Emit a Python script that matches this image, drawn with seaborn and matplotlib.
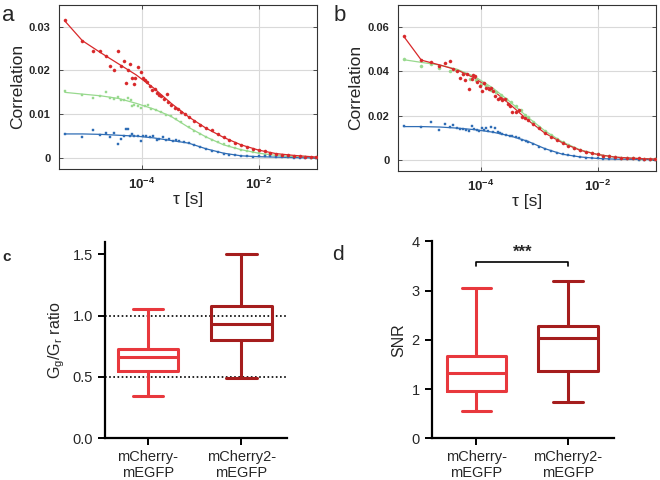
import numpy as np
import pandas as pd
import seaborn as sns
import matplotlib.pyplot as plt
from matplotlib.ticker import FuncFormatter, NullLocator

# ---- panel a: correlation curves (log10 of tau in s) ----
a_red_logtau = [-5.32, -5.02, -4.84, -4.71, -4.61, -4.54, -4.47, -4.41, -4.35, -4.31, -4.27, -4.23,
                -4.20, -4.17, -4.14, -4.11, -4.06, -4.01, -3.98, -3.94, -3.91, -3.87, -3.83, -3.78,
                -3.75, -3.71, -3.67, -3.62, -3.57, -3.56, -3.50, -3.44, -3.38, -3.33, -3.27,
                -3.20, -3.10, -3.00, -2.90, -2.80, -2.70, -2.60, -2.50, -2.40, -2.30, -2.20, -2.10,
                -2.00, -1.90, -1.80, -1.70, -1.60, -1.50, -1.40, -1.30, -1.20, -1.10, -1.02]
a_red = [0.0315, 0.0268, 0.0245, 0.0245, 0.0232, 0.0211, 0.0201, 0.0245, 0.0211, 0.0221, 0.0171, 0.0202,
         0.0214, 0.0183, 0.0169, 0.0183, 0.0208, 0.0196, 0.0182, 0.0178, 0.0174, 0.0165, 0.0156, 0.0158,
         0.0148, 0.0144, 0.0141, 0.0135, 0.0146, 0.0127, 0.0121, 0.0115, 0.0111, 0.0104, 0.0100,
         0.0093, 0.0084, 0.0075, 0.0068, 0.0063, 0.0055, 0.0047, 0.0041, 0.0035, 0.0030, 0.0026, 0.0021,
         0.0018, 0.0015, 0.0012, 0.0010, 0.0008, 0.0007, 0.0005, 0.0004, 0.0003, 0.0003, 0.0002]

a_green_logtau = [-5.32, -5.02, -4.84, -4.71, -4.61, -4.54, -4.47, -4.41, -4.35, -4.30, -4.23, -4.18,
                  -4.17, -4.13, -4.07, -4.01, -3.95, -3.90, -3.84, -3.76, -3.67, -3.58, -3.50, -3.41,
                  -3.33, -3.20, -3.10, -3.00, -2.90, -2.80, -2.70, -2.60, -2.50, -2.40, -2.30, -2.20,
                  -2.10, -2.00, -1.90, -1.80, -1.70, -1.60, -1.50, -1.40, -1.30, -1.20, -1.10, -1.02]
a_green = [0.0152, 0.0144, 0.0138, 0.0141, 0.0151, 0.0137, 0.0135, 0.0140, 0.0133, 0.0133, 0.0137, 0.0133,
           0.0118, 0.0122, 0.0118, 0.0115, 0.0118, 0.0120, 0.0111, 0.0110, 0.0104, 0.0098, 0.0095, 0.0090,
           0.0082, 0.0070, 0.0061, 0.0054, 0.0048, 0.0042, 0.0037, 0.0031, 0.0027, 0.0023, 0.0019, 0.0016,
           0.0013, 0.0011, 0.0008, 0.0007, 0.0005, 0.0004, 0.0003, 0.0003, 0.0002, 0.0002, 0.0001, 0.0001]

a_blue_logtau = [-5.32, -5.02, -4.84, -4.71, -4.61, -4.54, -4.47, -4.41, -4.35, -4.31, -4.27, -4.23,
                 -4.20, -4.17, -4.13, -4.07, -4.02, -3.98, -3.93, -3.87, -3.81, -3.75, -3.70, -3.64,
                 -3.58, -3.53, -3.47, -3.41, -3.36, -3.28, -3.20, -3.10, -3.00, -2.90, -2.80, -2.70,
                 -2.60, -2.50, -2.40, -2.30, -2.20, -2.10, -2.00, -1.90, -1.80, -1.70, -1.60, -1.50,
                 -1.40, -1.30, -1.20, -1.10, -1.02]
a_blue = [0.0054, 0.0048, 0.0065, 0.0052, 0.0058, 0.0048, 0.0058, 0.0032, 0.0044, 0.0051, 0.0067, 0.0067,
          0.0050, 0.0055, 0.0050, 0.0051, 0.0040, 0.0051, 0.0050, 0.0049, 0.0050, 0.0042, 0.0044, 0.0047,
          0.0042, 0.0043, 0.0038, 0.0042, 0.0038, 0.0036, 0.0035, 0.0029, 0.0025, 0.0020, 0.0017, 0.0013,
          0.0010, 0.0008, 0.0006, 0.0005, 0.0004, 0.0003, 0.0004, 0.0005, 0.0004, 0.0003, 0.0002, 0.0002,
          0.0001, 0.0001, 0.0001, 0.0000, 0.0000]

# ---- panel b ----
b_red_logtau = [-5.32, -5.02, -4.85, -4.71, -4.62, -4.53, -4.47, -4.41, -4.36, -4.31, -4.28, -4.24,
                -4.20, -4.16, -4.14, -4.10, -4.06, -4.02, -3.98, -3.94, -3.91, -3.86, -3.82, -3.80,
                -3.75, -3.71, -3.67, -3.63, -3.58, -3.54, -3.50, -3.46, -3.40, -3.34, -3.29, -3.24,
                -3.20, -3.10, -3.00, -2.90, -2.80, -2.70, -2.60, -2.50, -2.40, -2.30, -2.20, -2.10,
                -2.00, -1.90, -1.80, -1.70, -1.60, -1.50, -1.40, -1.30, -1.20, -1.10, -1.02]
b_red = [0.0557, 0.0450, 0.0441, 0.0423, 0.0438, 0.0446, 0.0408, 0.0400, 0.0370, 0.0389, 0.0362, 0.0389,
         0.0321, 0.0365, 0.0385, 0.0377, 0.0350, 0.0335, 0.0309, 0.0347, 0.0324, 0.0320, 0.0324, 0.0309,
         0.0289, 0.0274, 0.0279, 0.0271, 0.0274, 0.0253, 0.0243, 0.0217, 0.0217, 0.0225, 0.0195, 0.0187,
         0.0180, 0.0163, 0.0142, 0.0120, 0.0104, 0.0090, 0.0076, 0.0063, 0.0052, 0.0043, 0.0036, 0.0030,
         0.0024, 0.0018, 0.0015, 0.0012, 0.0010, 0.0008, 0.0007, 0.0006, 0.0005, 0.0004, 0.0003]

b_green_logtau = [-5.32, -5.02, -4.85, -4.71, -4.53, -4.42, -4.31, -4.19, -4.08, -3.99, -3.91, -3.82,
                  -3.74, -3.65, -3.57, -3.48, -3.40, -3.31, -3.24, -3.20, -3.10, -3.00, -2.90, -2.80,
                  -2.70, -2.60, -2.50, -2.40, -2.30, -2.20, -2.10, -2.00, -1.90, -1.80, -1.70, -1.60,
                  -1.50, -1.40, -1.30, -1.20, -1.10, -1.02]
b_green = [0.0457, 0.0423, 0.0431, 0.0416, 0.0400, 0.0404, 0.0389, 0.0365, 0.0362, 0.0344, 0.0335, 0.0316,
           0.0304, 0.0294, 0.0274, 0.0263, 0.0243, 0.0225, 0.0202, 0.0195, 0.0172, 0.0150, 0.0130, 0.0114,
           0.0096, 0.0080, 0.0066, 0.0054, 0.0045, 0.0037, 0.0030, 0.0024, 0.0019, 0.0015, 0.0012, 0.0010,
           0.0008, 0.0007, 0.0005, 0.0004, 0.0004, 0.0003]

b_blue_logtau = [-5.32, -5.02, -4.85, -4.71, -4.62, -4.53, -4.47, -4.41, -4.35, -4.31, -4.25, -4.20,
                 -4.16, -4.12, -4.07, -4.03, -3.98, -3.94, -3.91, -3.87, -3.83, -3.79, -3.75, -3.71,
                 -3.67, -3.63, -3.57, -3.51, -3.46, -3.40, -3.34, -3.29, -3.23, -3.20, -3.10, -3.00,
                 -2.90, -2.80, -2.70, -2.60, -2.50, -2.40, -2.30, -2.20, -2.10, -2.00, -1.90, -1.80,
                 -1.70, -1.60, -1.50, -1.40, -1.30, -1.20, -1.10, -1.02]
b_blue = [0.0152, 0.0149, 0.0170, 0.0134, 0.0161, 0.0146, 0.0155, 0.0142, 0.0137, 0.0137, 0.0134, 0.0131,
          0.0153, 0.0137, 0.0134, 0.0129, 0.0142, 0.0134, 0.0144, 0.0131, 0.0146, 0.0125, 0.0142, 0.0126,
          0.0119, 0.0116, 0.0114, 0.0108, 0.0106, 0.0103, 0.0099, 0.0088, 0.0084, 0.0082, 0.0070, 0.0058,
          0.0048, 0.0040, 0.0031, 0.0025, 0.0020, 0.0016, 0.0013, 0.0010, 0.0008, 0.0006, 0.0005, 0.0004,
          0.0003, 0.0003, 0.0002, 0.0002, 0.0001, 0.0001, 0.0001, 0.0000]

# fitted curves
fit_logtau = [-5.32, -5.02, -4.7, -4.4, -4.1, -3.8, -3.5, -3.2, -2.9, -2.6, -2.3, -2.0, -1.7, -1.4, -1.0]
a_red_fit = [0.0313, 0.0268, 0.0240, 0.0215, 0.0190, 0.0160, 0.0125, 0.0094, 0.0068, 0.0047, 0.0030, 0.0018, 0.0010, 0.0006, 0.0002]
a_green_fit = [0.0150, 0.0146, 0.0142, 0.0136, 0.0125, 0.0112, 0.0095, 0.0070, 0.0048, 0.0030, 0.0019, 0.0011, 0.0006, 0.0003, 0.0001]
a_blue_fit = [0.0055, 0.0055, 0.0054, 0.0052, 0.0050, 0.0046, 0.0040, 0.0034, 0.0021, 0.0011, 0.0005, 0.0003, 0.0002, 0.0001, 0.0000]
b_red_fit = [0.0557, 0.0450, 0.0428, 0.0405, 0.0368, 0.0315, 0.0250, 0.0180, 0.0120, 0.0076, 0.0043, 0.0024, 0.0012, 0.0007, 0.0003]
b_green_fit = [0.0452, 0.0440, 0.0428, 0.0408, 0.0375, 0.0325, 0.0262, 0.0193, 0.0130, 0.0080, 0.0045, 0.0024, 0.0012, 0.0007, 0.0003]
b_blue_fit = [0.0150, 0.0150, 0.0148, 0.0143, 0.0136, 0.0125, 0.0108, 0.0084, 0.0050, 0.0025, 0.0013, 0.0006, 0.0003, 0.0002, 0.0001]

# ---- panels c, d: five-number summaries (min, q1, median, q3, max) ----
constructs = ['mCherry-\nmEGFP', 'mCherry2-\nmEGFP']
ratio_mcherry = [0.34, 0.55, 0.66, 0.73, 1.05]
ratio_mcherry2 = [0.49, 0.80, 0.93, 1.08, 1.50]
snr_mcherry = [0.56, 0.97, 1.32, 1.67, 3.05]
snr_mcherry2 = [0.74, 1.37, 2.04, 2.29, 3.19]
ratio_refs = [0.5, 1.0]
sig_level = 3.59
sig_text = '***'

red, green, blue = '#d8282a', '#98d98e', '#2f6db5'
box_colors = ['#e8383d', '#a51d1d']

sns.set_style('ticks')
plt.rcParams['font.family'] = ['Liberation Sans', 'DejaVu Sans']
plt.rcParams['mathtext.fontset'] = 'custom'
plt.rcParams['mathtext.rm'] = 'Liberation Sans'
plt.rcParams['mathtext.bf'] = 'Liberation Sans:bold'
plt.rcParams['mathtext.it'] = 'Liberation Sans:italic'

fig = plt.figure(figsize=(6.6, 4.8), dpi=100)
ax_a = fig.add_axes([0.0894, 0.648, 0.391, 0.342])
ax_b = fig.add_axes([0.603, 0.644, 0.391, 0.346])
ax_c = fig.add_axes([0.159, 0.0875, 0.276, 0.408])
ax_d = fig.add_axes([0.654, 0.087, 0.276, 0.410])


def corr_panel(ax, series, fits, ylim, yticks):
    for (lt, vals, col, mk, sz), fit in zip(series, fits):
        pts = pd.DataFrame({'tau': 10 ** np.array(lt), 'G': vals})
        fdf = pd.DataFrame({'tau': 10 ** np.array(fit_logtau), 'G': fit})
        sns.lineplot(data=fdf, x='tau', y='G', ax=ax, color=col, lw=0.9, zorder=2)
        sns.scatterplot(data=pts, x='tau', y='G', ax=ax, color=col, marker=mk, s=sz,
                        edgecolor=col, linewidth=0.3, zorder=3)
    ax.set_xscale('log')
    ax.set_xlim(3.8e-6, 0.1)
    ax.set_ylim(*ylim)
    ax.set_xticks([1e-4, 1e-2])
    ax.set_xticklabels([r'$\mathbf{10^{-4}}$', r'$\mathbf{10^{-2}}$'])
    ax.xaxis.set_minor_locator(NullLocator())
    ax.set_yticks(yticks)
    ax.yaxis.set_major_formatter(FuncFormatter(lambda v, p: f'{v:g}'))
    ax.grid(True, color='#d9d9d9', lw=0.8)
    ax.tick_params(direction='in', top=True, right=True, length=3, width=0.6,
                   color='#333333', labelsize=8, pad=6)
    ax.tick_params(axis='x', labelsize=9.5)
    for lbl in ax.get_yticklabels():
        lbl.set_fontweight('bold')
    for sp in ax.spines.values():
        sp.set_color('#333333')
        sp.set_linewidth(0.8)
    ax.set_xlabel('τ [s]', fontsize=12.5, labelpad=0)
    ax.set_ylabel('Correlation', fontsize=12.5, labelpad=3)


corr_panel(ax_a,
           [(a_green_logtau, a_green, green, 's', 3.5), (a_blue_logtau, a_blue, blue, 's', 3.5),
            (a_red_logtau, a_red, red, 'o', 5)],
           [a_green_fit, a_blue_fit, a_red_fit], (-0.0025, 0.035), [0, 0.01, 0.02, 0.03])
corr_panel(ax_b,
           [(b_green_logtau, b_green, green, 'o', 5), (b_blue_logtau, b_blue, blue, 's', 3.5),
            (b_red_logtau, b_red, red, 'o', 5)],
           [b_green_fit, b_blue_fit, b_red_fit], (-0.005, 0.070), [0, 0.02, 0.04, 0.06])


def box_panel(ax, groups, ylabel, ylim, yticks, fmt):
    df = pd.DataFrame({'construct': np.repeat(constructs, 5),
                       'value': np.concatenate(groups)})
    sns.boxplot(data=df, x='construct', y='value', hue='construct', palette=box_colors,
                fill=False, width=0.65, whis=(0, 100), linewidth=2.2, legend=False, ax=ax)
    ax.set_ylim(*ylim)
    ax.set_yticks(yticks)
    ax.yaxis.set_major_formatter(FuncFormatter(lambda v, p: fmt.format(v)))
    ax.set_xlabel('')
    ax.set_ylabel(ylabel, fontsize=11.5)
    sns.despine(ax=ax)
    for sp in ['left', 'bottom']:
        ax.spines[sp].set_linewidth(1.6)
        ax.spines[sp].set_color('black')
    ax.tick_params(direction='out', length=5, width=1.4, color='black', labelsize=10.5)


box_panel(ax_c, [ratio_mcherry, ratio_mcherry2], r'$\mathrm{G_g/G_r}$ ratio',
          (0, 1.6), [0, 0.5, 1.0, 1.5], '{:.1f}')
ax_c.set_xlim(-0.46, 1.49)
for r in ratio_refs:
    ax_c.axhline(r, color='black', ls=(0, (1, 1.5)), lw=1.2, zorder=0)

box_panel(ax_d, [snr_mcherry, snr_mcherry2], 'SNR', (0, 4), [0, 1, 2, 3, 4], '{:g}')
ax_d.set_xlim(-0.49, 1.5)
ax_d.plot([0, 0, 1, 1], [sig_level - 0.09, sig_level, sig_level, sig_level - 0.09],
          color='black', lw=1.2, clip_on=False)
ax_d.text(0.5, sig_level + 0.03, sig_text, ha='center', va='bottom', fontsize=12,
          fontweight='bold', clip_on=False)

fig.text(0.003, 0.99, 'a', fontsize=16, va='top')
fig.text(0.506, 0.99, 'b', fontsize=16, va='top')
fig.text(0.003, 0.48, 'c', fontsize=11, fontweight='bold', va='top')
fig.text(0.503, 0.49, 'd', fontsize=15, va='top')

fig.savefig('out.png', dpi=100)
